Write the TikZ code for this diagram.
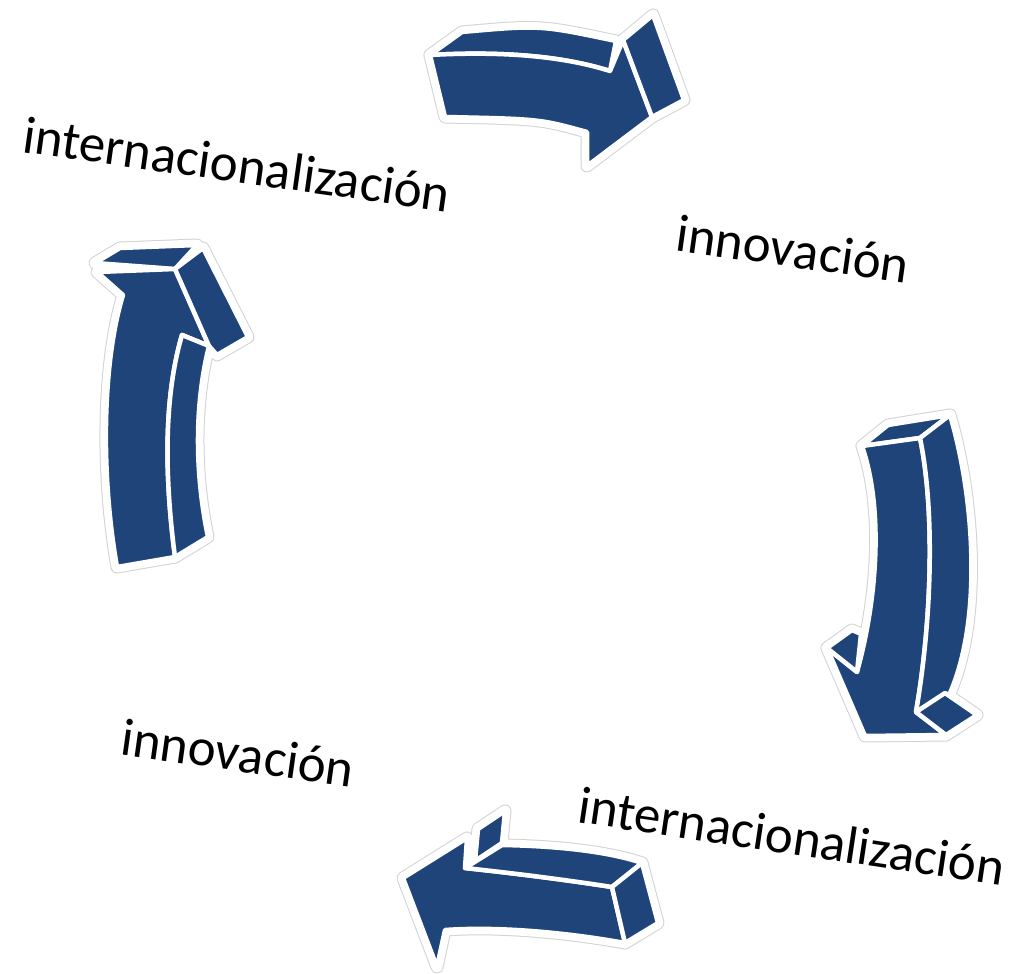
\documentclass[tikz,border=0pt]{standalone}
\usepackage{fontspec}
\setmainfont{Carlito}
\usepackage{tikz}
\usepackage{xcolor}
\definecolor{arrowblue}{RGB}{31,68,121}
\tikzstyle{halo} = [draw=gray!35, line width=13pt, line join=round]
\tikzstyle{rim} = [draw=white, line width=11pt, line join=round]
\tikzstyle{face} = [fill=arrowblue, draw=white, line width=4.5pt, line join=round]
\tikzstyle{word} = [inner sep=0pt, rotate=-8, font=\fontsize{53}{60}\selectfont]

\newcommand{\arrowtopshape}[1]{%
  \path[#1] (430,55) -- (462,32) .. controls (540,25) .. (616,41) -- (610,71) .. controls (575,60) and (520,50) .. (430,55) -- cycle;
  \path[#1] (430,55) .. controls (520,50) and (575,60) .. (610,71) -- (623,40) -- (652,117) -- (587,166) -- (587,132) .. controls (540,119) .. (445,117) -- cycle;
  \path[#1] (623,40) -- (653,15) -- (684,100) -- (652,117) -- cycle;
}
\newcommand{\arrowleftshape}[1]{%
  \path[#1] (95,263) -- (120,248) -- (197,245) -- (175,269) -- cycle;
  \path[#1] (97,272) -- (175,269) -- (209,346) -- (182,335) .. controls (163,400) and (165,480) .. (175,557) -- (117,567) .. controls (100,470) and (103,360) .. (123,295) -- cycle;
  \path[#1] (175,269) -- (203,248) -- (248,337) -- (217,355) -- (209,346) -- cycle;
  \path[#1] (182,335) -- (209,346) .. controls (193,410) and (196,480) .. (208,537) -- (175,557) .. controls (165,480) and (163,400) .. (182,335) -- cycle;
}
\newcommand{\arrowrightshape}[1]{%
  \path[#1] (862,446) -- (888,425) -- (950,415) -- (920,438) -- cycle;
  \path[#1] (862,446) -- (920,438) .. controls (935,510) and (932,620) .. (916,712) -- (946,735) -- (865,736) -- (827,648) -- (857,672) .. controls (877,600) and (884,510) .. (862,446) -- cycle;
  \path[#1] (920,438) -- (950,415) .. controls (975,500) and (982,620) .. (950,693) -- (916,712) .. controls (932,620) and (935,510) .. (920,438) -- cycle;
  \path[#1] (827,648) -- (852,630) -- (861,634) -- (857,672) -- cycle;
  \path[#1] (916,712) -- (945,693) -- (977,715) -- (946,735) -- cycle;
}
\newcommand{\arrowbottomshape}[1]{%
  \path[#1] (403,878) -- (467,838) -- (465,868) .. controls (530,875) and (580,882) .. (612,887) -- (625,943) .. controls (570,933) and (500,926) .. (445,930) -- (437,967) -- cycle;
  \path[#1] (465,868) -- (502,845) .. controls (560,846) and (610,852) .. (642,863) -- (612,887) .. controls (580,882) and (530,875) .. (465,868) -- cycle;
  \path[#1] (478,829) -- (505,811) -- (502,843) -- (475,861) -- cycle;
  \path[#1] (612,887) -- (642,863) -- (658,923) -- (625,943) -- cycle;
}

\begin{document}
\begin{tikzpicture}[x=1pt, y=-1pt]
    \useasboundingbox (0,0) rectangle (1020,974);

    \arrowtopshape{halo} \arrowtopshape{rim} \arrowtopshape{face}
    \arrowrightshape{halo} \arrowrightshape{rim} \arrowrightshape{face}
    \arrowbottomshape{halo} \arrowbottomshape{rim} \arrowbottomshape{face}
    \arrowleftshape{halo} \arrowleftshape{rim} \arrowleftshape{face}

    \node (interTop) [word] at (237,164) {internacionalización};
    \node (innoTop) [word] at (793,249) {innovación};
    \node (innoBottom) [word] at (238,753) {innovación};
    \node (interBottom) [word, rotate=-0.5] at (792,836) {internacionalización};
\end{tikzpicture}
\end{document}
